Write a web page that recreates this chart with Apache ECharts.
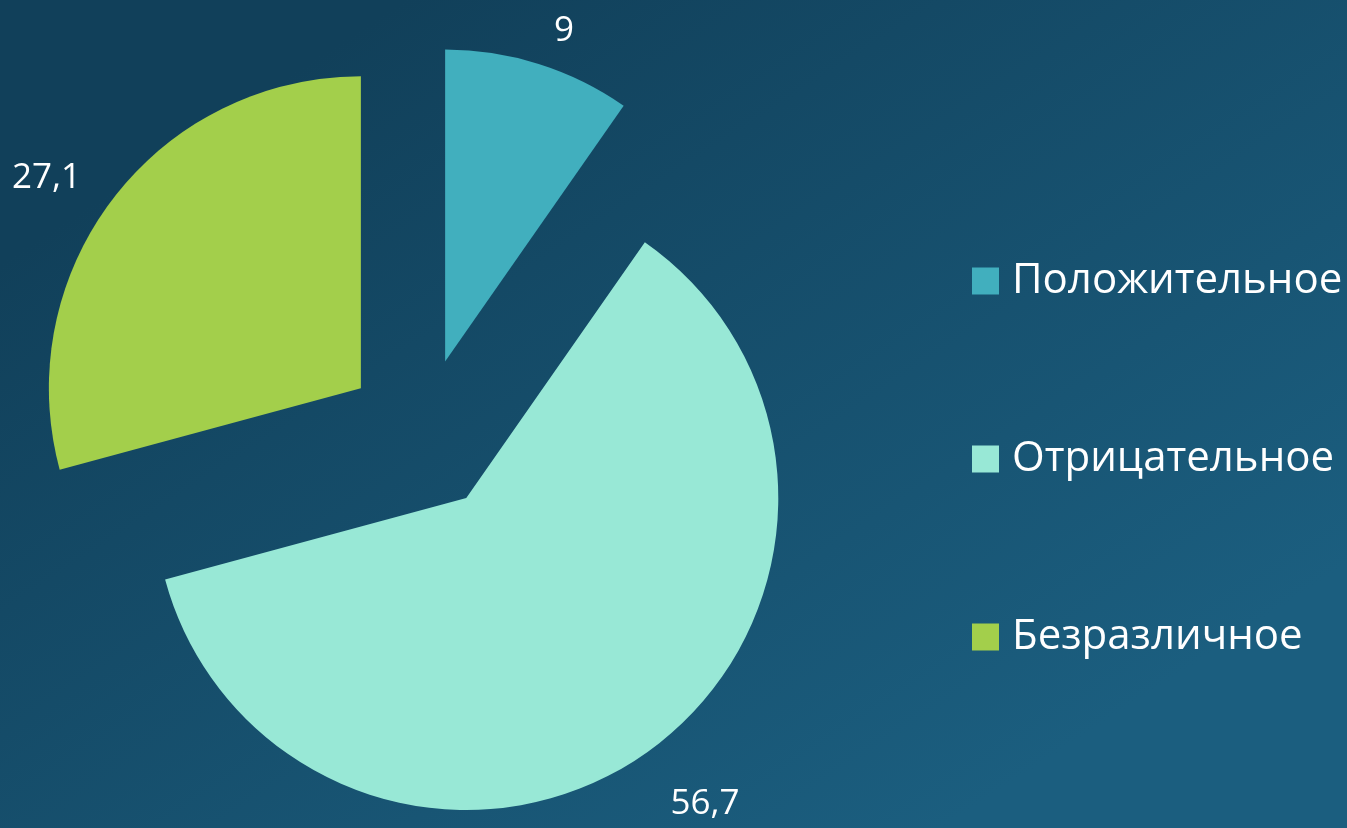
<!DOCTYPE html>
<html>
<head>
<meta charset="utf-8">
<script src="https://cdn.jsdelivr.net/npm/echarts@6/dist/echarts.min.js"></script>
<style>
  html, body { margin: 0; padding: 0; }
  #chart { width: 1347px; height: 828px; }
</style>
</head>
<body>
<div id="chart"></div>
<script>
// данные диаграммы
const categories = ['Положительное', 'Отрицательное', 'Безразличное']
const values = [9, 56.7, 27.1]
const colors = ['#41afbe', '#98e8d6', '#a3cf4b']

const chart = echarts.init(document.getElementById('chart'))

const option = {
  backgroundColor: {
    type: 'linear',
    x: 0.3, y: 0, x2: 0.7, y2: 1,
    colorStops: [
      { offset: 0, color: '#11405a' },
      { offset: 1, color: '#1b5e7f' }
    ]
  },
  color: colors,
  legend: {
    orient: 'vertical',
    left: 967,
    top: 255,
    itemWidth: 27,
    itemHeight: 27,
    itemGap: 136,
    icon: 'rect',
    selectedMode: false,
    textStyle: {
      color: '#ffffff',
      fontFamily: 'Open Sans',
      fontSize: 42,
      padding: [0, 0, 0, 8]
    },
    data: categories
  },
  series: [
    {
      type: 'pie',
      center: [422, 435],
      radius: [0, 312],
      startAngle: 90,
      clockwise: true,
      selectedMode: 'multiple',
      selectedOffset: 77,
      avoidLabelOverlap: false,
      animation: false,
      itemStyle: { borderWidth: 0 },
      label: {
        show: true,
        position: 'outside',
        color: '#ffffff',
        fontFamily: 'Open Sans',
        fontSize: 35,
        formatter: p => String(p.value).replace('.', ',')
      },
      labelLine: { show: false, length: 34, length2: 0 },
      emphasis: { disabled: true },
      data: categories.map((name, i) => ({
        name: name,
        value: values[i],
        selected: true,
        // нижняя подпись в оригинале сидит ниже
        labelLine: i === 1 ? { show: false, length: 62, length2: -16 } : undefined
      }))
    }
  ]
}

chart.setOption(option)
</script>
</body>
</html>
